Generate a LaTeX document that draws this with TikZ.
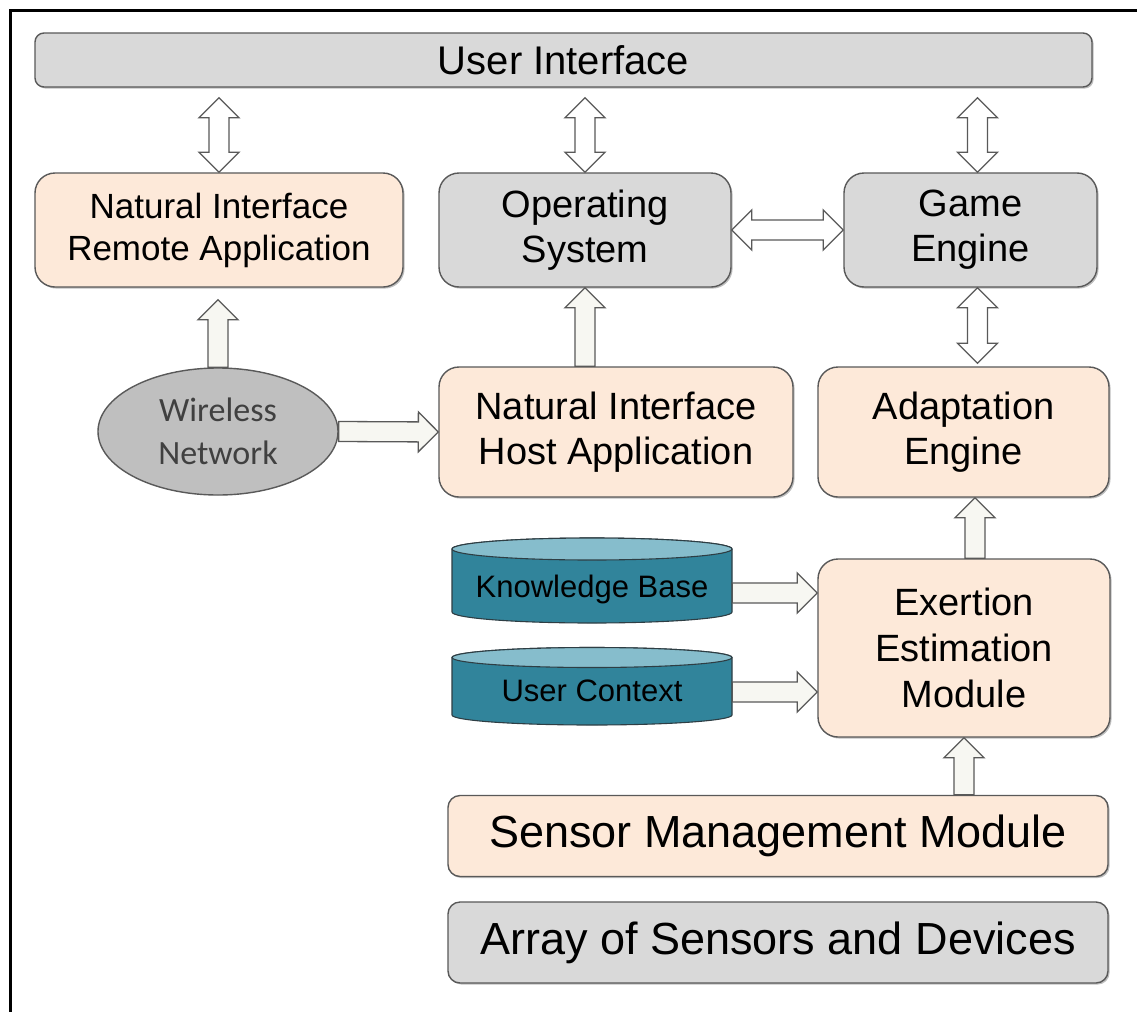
\documentclass[tikz,border=0pt]{standalone}
\usepackage{fontspec}
\setmainfont{Liberation Sans}
\newfontfamily\calfont{Carlito}
\usetikzlibrary{calc,shapes.geometric,shadows}

\definecolor{boxgray}{HTML}{D9D9D9}
\definecolor{peach}{HTML}{FDE9D9}
\definecolor{edgegray}{HTML}{595959}
\definecolor{ellgray}{HTML}{BFBFBF}
\definecolor{dbbody}{HTML}{31849B}
\definecolor{dbtop}{HTML}{86BDCC}
\definecolor{dbedge}{HTML}{2E3E44}
\definecolor{arrowfill}{HTML}{F7F7F2}
\definecolor{wirelesstext}{HTML}{404040}

\tikzset{
  softshadow/.style={drop shadow={shadow xshift=1.6pt, shadow yshift=-1.6pt,
    fill=black, opacity=0.25}},
  graybox/.style={draw=edgegray, line width=1.4pt, fill=boxgray, rounded corners=20pt,
    align=center, inner sep=0pt, font=\fontsize{38}{45}\selectfont, softshadow},
  peachbox/.style={graybox, fill=peach},
  blockarrow/.style={draw=edgegray, line width=1.3pt, fill=arrowfill, line join=miter},
  dblockarrow/.style={blockarrow, fill=white},
  cylside/.style={draw=dbedge, line width=1.1pt, fill=dbbody},
  cyltop/.style={draw=dbedge, line width=1.1pt, fill=dbtop},
}

% one-headed block arrow from #1 to #2 (shaft 20, head 40 wide, 20 long)
\newcommand{\blkarrow}[2]{%
  \coordinate (hb) at ($(#2)!20pt!(#1)$);
  \draw[blockarrow] ($(#1)!10pt!90:(#2)$) -- ($(hb)!10pt!90:(#2)$) -- ($(hb)!20pt!90:(#2)$)
    -- (#2) -- ($(hb)!20pt!-90:(#2)$) -- ($(hb)!10pt!-90:(#2)$) -- ($(#1)!10pt!-90:(#2)$) -- cycle;}

% two-headed block arrow between #1 and #2
\newcommand{\blkdarrow}[2]{%
  \coordinate (ha) at ($(#1)!20pt!(#2)$);
  \coordinate (hz) at ($(#2)!20pt!(#1)$);
  \draw[dblockarrow] (#1) -- ($(ha)!20pt!90:(#2)$) -- ($(ha)!10pt!90:(#2)$)
    -- ($(hz)!10pt!90:(#2)$) -- ($(hz)!20pt!90:(#2)$) -- (#2)
    -- ($(hz)!20pt!-90:(#2)$) -- ($(hz)!10pt!-90:(#2)$)
    -- ($(ha)!10pt!-90:(#2)$) -- ($(ha)!20pt!-90:(#2)$) -- cycle;}

% database cylinder: centre x, top-rim y, bottom-rim y, rim y radius
\newcommand{\dbcyl}[4]{%
  \draw[cylside] ({#1-140},#2) -- ({#1-140},#3)
    arc[start angle=180, end angle=360, x radius=140pt, y radius=#4pt]
    -- ({#1+140},#2)
    arc[start angle=0, end angle=180, x radius=140pt, y radius=#4pt] -- cycle;
  \draw[cyltop] (#1,#2) ellipse[x radius=140pt, y radius=#4pt];}

\begin{document}
\begin{tikzpicture}[x=1pt, y=-1pt]
\useasboundingbox (0,0) rectangle (1138,1012);
\fill[white] (0,0) rectangle (1138,1012);

% outer frame (only its top and left sides fall inside the page)
\draw[line width=3pt, line join=miter] (10,1012) -- (10,10) -- (1137,10);

% boxes
\node[graybox, rounded corners=9pt, minimum width=1057pt, minimum height=54pt,
  font=\fontsize{40}{46}\selectfont] (ui) at (563.5,60) {User Interface};

\node[peachbox, minimum width=368pt, minimum height=114pt,
  font=\fontsize{35}{42}\selectfont] (remote) at (219,230) {Natural Interface\\Remote Application};
\node[graybox, minimum width=292pt, minimum height=114pt] (os) at (585,230) {Operating\\System};
\node[graybox, minimum width=253pt, minimum height=114pt] (game) at (970.5,230) {Game\\Engine};

\node[ellipse, draw=edgegray, line width=1.4pt, fill=ellgray, minimum width=240pt,
  minimum height=127pt, inner sep=0pt, align=center, text=wirelesstext,
  font=\calfont\fontsize{34}{43}\selectfont] (wireless) at (218,431.5) {Wireless\\Network};

\node[peachbox, minimum width=354pt, minimum height=130pt] (host) at (616,432)
  {Natural Interface\\Host Application};
\node[peachbox, minimum width=291pt, minimum height=130pt] (adapt) at (963.5,432)
  {Adaptation\\Engine};

\node[peachbox, minimum width=292pt, minimum height=178pt, font=\fontsize{38}{46}\selectfont]
  (exert) at (964,648) {Exertion\\Estimation\\Module};

\node[peachbox, rounded corners=12pt, minimum width=660pt, minimum height=81pt,
  font=\fontsize{45}{52}\selectfont] (smm) at (778,836) {Sensor Management Module};
\node[graybox, rounded corners=12pt, minimum width=660pt, minimum height=81pt,
  font=\fontsize{45}{52}\selectfont] (array) at (778,942.5) {Array of Sensors and Devices};

% data stores
\dbcyl{592}{549}{612}{11}
\node[minimum width=280pt, inner sep=0pt, font=\fontsize{31}{36}\selectfont] (kb) at (592,589) {Knowledge Base};
\dbcyl{592}{657.5}{715}{10}
\node[minimum width=280pt, inner sep=0pt, font=\fontsize{31}{36}\selectfont] (uc) at (592,691) {User Context};

% connectors: user interface
\coordinate (u1) at ($(ui.south -| remote.north)+(0,10)$);
\blkdarrow{u1}{remote.north}
\coordinate (u2) at ($(ui.south -| os.north)+(0,10)$);
\blkdarrow{u2}{os.north}
\coordinate (g1) at ($(game.north)+(7,0)$);
\coordinate (u3) at ($(ui.south -| g1)+(0,10)$);
\blkdarrow{u3}{g1}

% operating system <-> game engine
\blkdarrow{os.east}{game.west}

% game engine <-> adaptation engine
\coordinate (g2) at ($(game.south)+(7,0)$);
\coordinate (a2) at ($(g2 |- adapt.north)+(0,-3)$);
\blkdarrow{g2}{a2}

% wireless network
\coordinate (r1) at ($(remote.south)+(-1,12)$);
\blkarrow{wireless.north}{r1}
\blkarrow{wireless.east}{host.west}

% host application -> operating system
\coordinate (h1) at (os.south |- host.north);
\blkarrow{h1}{os.south}

% exertion estimation -> adaptation engine
\coordinate (e1) at ($(exert.north)+(11,0)$);
\coordinate (a1) at (e1 |- adapt.south);
\blkarrow{e1}{a1}

% stores -> exertion estimation
\coordinate (k1) at ($(kb.east)+(0,4)$);
\blkarrow{k1}{k1 -| exert.west}
\coordinate (c1) at ($(uc.east)+(0,1)$);
\blkarrow{c1}{c1 -| exert.west}

% sensor management -> exertion estimation
\coordinate (s1) at (exert.south |- smm.north);
\blkarrow{s1}{exert.south}
\end{tikzpicture}
\end{document}
